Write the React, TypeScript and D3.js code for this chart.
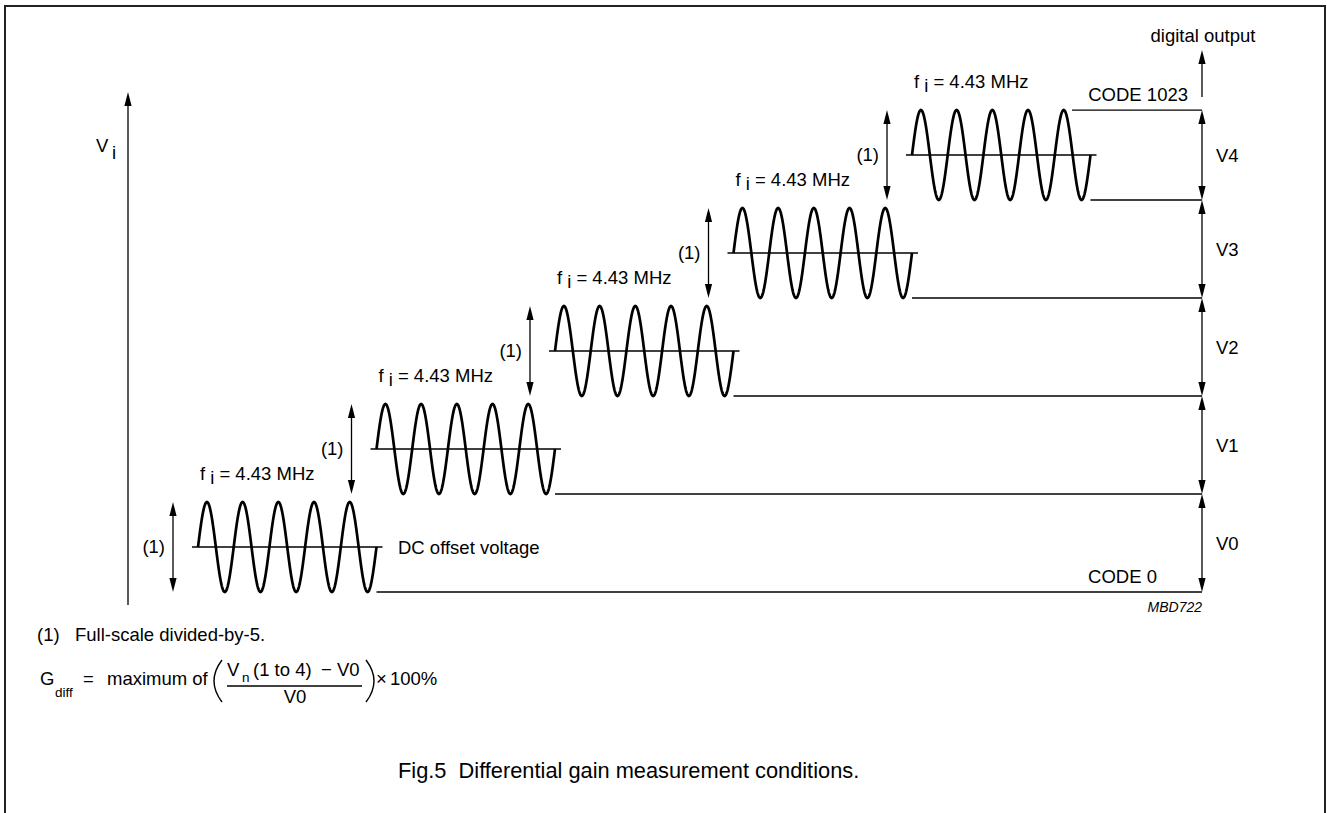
import React from "react";
import * as d3 from "d3";

// ---- data ----
const stepIndex = [0, 1, 2, 3, 4];
const stepLabels = ["V0", "V1", "V2", "V3", "V4"];
const burstAmplitude = 0.918; // peak-to-peak of each burst, in step units ("(1)" full-scale / 5)
const cyclesPerBurst = 5;
const freqText = ["f", "i", " = 4.43 MHz"];
const codeLabels = ["CODE 0", "CODE 1023"];
const footnote = ["(1)", "Full-scale divided-by-5."];
const caption = "Fig.5  Differential gain measurement conditions.";

const W = 1327;
const H = 813;
const FONT = "'Liberation Sans', Arial, Helvetica, sans-serif";
const FS = 18.5;

const x = d3.scaleLinear().domain([0, 5]).range([198, 1090.5]);
const y = d3.scaleLinear().domain([0, 5]).range([592, 102]);
const arrowX = 1202;
const boundaries = [...stepIndex, 4 + burstAmplitude];

function head(px: number, py: number, dir: number, key: string) {
  // dir = -1 points up, +1 points down
  const L = 14, hw = 3.6;
  const pts = `${px},${py} ${px - hw},${py - dir * L} ${px + hw},${py - dir * L}`;
  return <polygon key={key} points={pts} fill="#000" />;
}

function dblArrow(px: number, y1: number, y2: number, key: string) {
  return (
    <g key={key}>
      <line x1={px} x2={px} y1={y1 + 4} y2={y2 - 4} stroke="#000" strokeWidth={1.3} />
      {head(px, y1, -1, key + "u")}
      {head(px, y2, 1, key + "d")}
    </g>
  );
}

export default function App() {
  const burstPath = (n: number) => {
    const N = 400;
    const pts: [number, number][] = [];
    for (let i = 0; i <= N; i++) {
      const t = (i / N) * cyclesPerBurst;
      const xv = x(n + t / cyclesPerBurst);
      const yv = y(n + burstAmplitude / 2 + (burstAmplitude / 2) * Math.sin(2 * Math.PI * t));
      pts.push([xv, yv]);
    }
    return d3.line()(pts) as string;
  };

  return (
    <div style={{ position: "absolute", left: 0, top: 0 }}>
      <svg width={W} height={H} style={{ display: "block", background: "#fff" }} fontFamily={FONT}>
        {/* frame */}
        <path d={`M5,${H + 10} L5,6 L1325,6 L1325,${H + 10}`} fill="none" stroke="#222" strokeWidth={2} />

        {/* V_i axis */}
        <line x1={128} x2={128} y1={605} y2={100} stroke="#000" strokeWidth={1.3} />
        {head(128, 92, -1, "vi")}
        <text x={96} y={152} fontSize={FS}>
          V<tspan dx={4} dy={7}>i</tspan>
        </text>

        {stepIndex.map((n) => {
          const yBot = y(n);
          const yTop = y(n + burstAmplitude);
          const yMid = y(n + burstAmplitude / 2);
          const x0 = x(n);
          const x1 = x(n + 1);
          return (
            <g key={"b" + n}>
              <line x1={x0 - 6} x2={x1 + 6} y1={yMid} y2={yMid} stroke="#000" strokeWidth={1.3} />
              <path d={burstPath(n)} fill="none" stroke="#000" strokeWidth={2.7} />
              <line x1={x1} x2={arrowX} y1={yBot} y2={yBot} stroke="#000" strokeWidth={1.3} />
              {dblArrow(x0 - 25, yTop, yBot, "a" + n)}
              <text x={x0 - 33} y={yMid + 6} fontSize={FS} textAnchor="end">
                {footnote[0]}
              </text>
              <text x={x0 + 2} y={yTop - 22} fontSize={FS} style={{ whiteSpace: "pre" }}>
                {freqText[0]}
                <tspan dx={5} dy={4}>{freqText[1]}</tspan>
                <tspan dy={-4}>{freqText[2]}</tspan>
              </text>
            </g>
          );
        })}

        {/* top code line */}
        <line x1={1072} x2={arrowX} y1={y(4 + burstAmplitude)} y2={y(4 + burstAmplitude)} stroke="#000" strokeWidth={1.3} />

        {/* right step arrows */}
        {stepIndex.map((n) => (
          <g key={"r" + n}>
            {dblArrow(arrowX, y(boundaries[n + 1]), y(boundaries[n]), "r" + n)}
            <text x={1216} y={(y(boundaries[n + 1]) + y(boundaries[n])) / 2 + 7} fontSize={FS}>
              {stepLabels[n]}
            </text>
          </g>
        ))}

        {/* digital output arrow */}
        <line x1={arrowX} x2={arrowX} y1={97} y2={58} stroke="#000" strokeWidth={1.3} />
        {head(arrowX, 50, -1, "do")}
        <text x={1203} y={42} fontSize={FS} textAnchor="middle">digital output</text>

        <text x={1188} y={101} fontSize={FS} textAnchor="end">{codeLabels[1]}</text>
        <text x={1157} y={583} fontSize={FS} textAnchor="end">{codeLabels[0]}</text>
        <text x={398} y={554} fontSize={FS}>DC offset voltage</text>
        <text x={1202} y={612} fontSize={14} fontStyle="italic" textAnchor="end">MBD722</text>

        {/* footnote */}
        <text x={37} y={641} fontSize={FS}>{footnote[0]}</text>
        <text x={75} y={641} fontSize={FS}>{footnote[1]}</text>

        {/* formula */}
        <text x={40} y={685} fontSize={FS}>G</text>
        <text x={55} y={697} fontSize={13.5}>diff</text>
        <text x={83} y={685} fontSize={FS}>=</text>
        <text x={107} y={685} fontSize={FS}>maximum of</text>
        <path d="M222,660 Q206,681 222,702" fill="none" stroke="#000" strokeWidth={1.4} />
        <text x={227} y={676} fontSize={FS}>V</text>
        <text x={242} y={682} fontSize={13.5}>n</text>
        <text x={253} y={676} fontSize={FS}>(1 to 4)</text>
        <text x={321} y={676} fontSize={FS}>−</text>
        <text x={337} y={676} fontSize={FS}>V0</text>
        <line x1={227} x2={362} y1={686} y2={686} stroke="#000" strokeWidth={1.3} />
        <text x={295} y={703} fontSize={FS} textAnchor="middle">V0</text>
        <path d="M366,660 Q382,681 366,702" fill="none" stroke="#000" strokeWidth={1.4} />
        <text x={376} y={685} fontSize={FS}>×</text>
        <text x={390} y={685} fontSize={FS}>100%</text>

        {/* caption */}
        <text x={398} y={778} fontSize={21.8} style={{ whiteSpace: "pre" }}>{caption}</text>
      </svg>
    </div>
  );
}
